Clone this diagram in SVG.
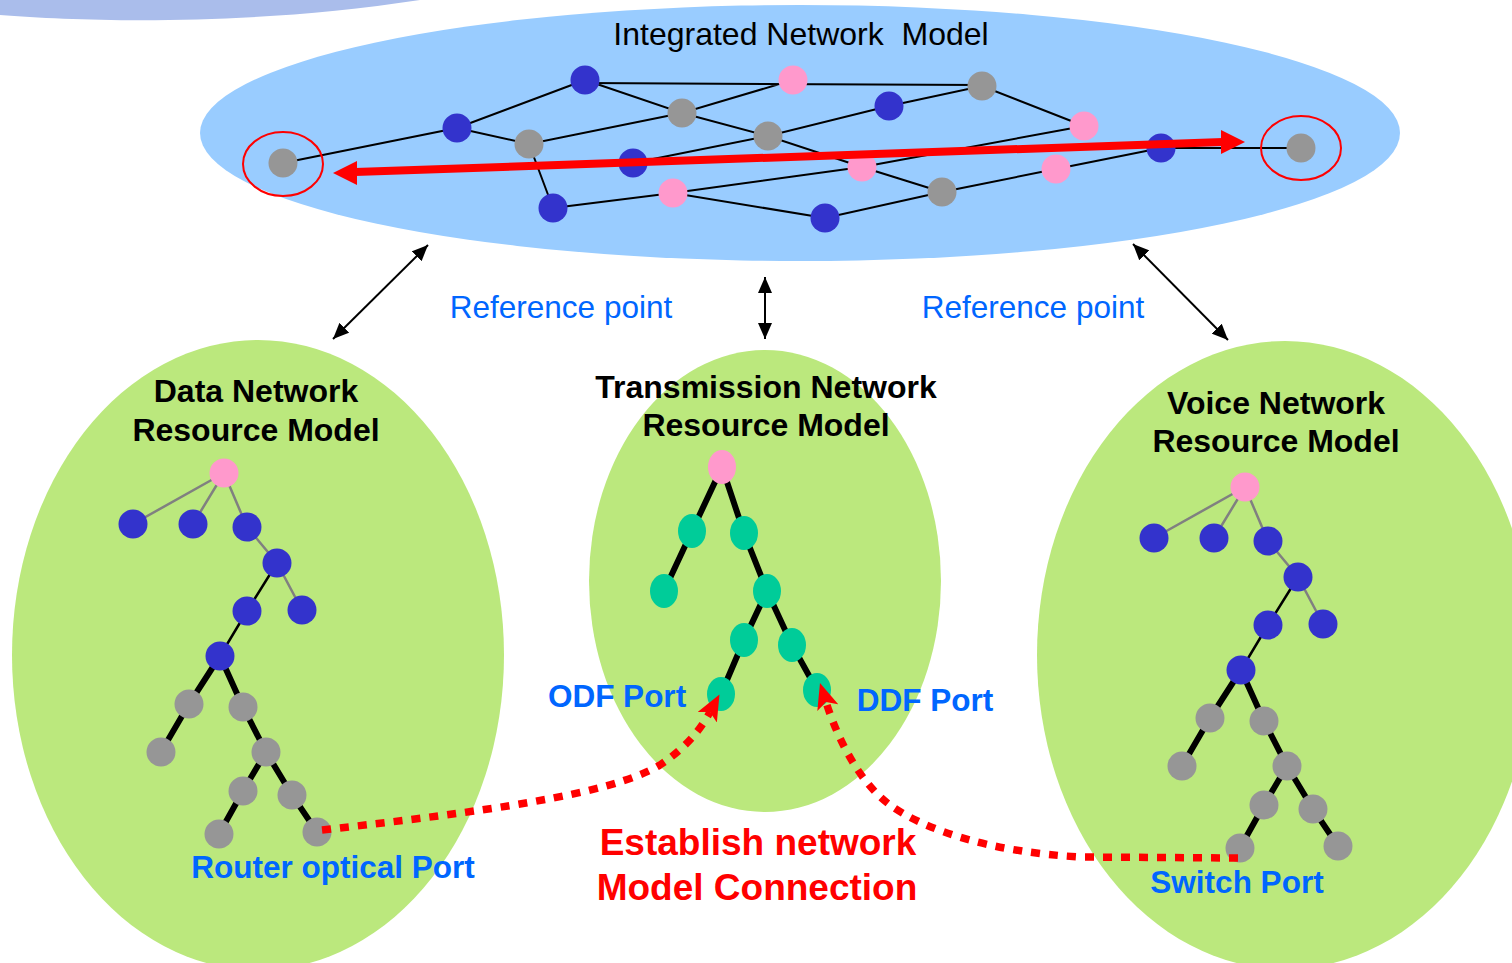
<svg xmlns="http://www.w3.org/2000/svg" xmlns:xlink="http://www.w3.org/1999/xlink" width="1512" height="963" viewBox="0 0 1512 963">
<style>
  .e { stroke:#000; stroke-width:2; fill:none; }
  .tg { stroke:#808080; stroke-width:2.5; fill:none; }
  .tb { stroke:#000; stroke-width:2.5; fill:none; }
  .tk { stroke:#000; stroke-width:6; fill:none; }
  .nb { fill:#3333CC; }
  .ng { fill:#969696; }
  .np { fill:#FF99CC; }
  .nt { fill:#00CC99; }
  .title { font-family:"Liberation Sans", Arial, sans-serif; font-size:32px; font-weight:bold; fill:#000; text-anchor:middle; }
  .port { font-family:"Liberation Sans", Arial, sans-serif; font-size:31.5px; font-weight:bold; fill:#0066FF; text-anchor:middle; }
  .ref { font-family:"Liberation Sans", Arial, sans-serif; font-size:31.5px; fill:#0066FF; text-anchor:middle; }
  .red { font-family:"Liberation Sans", Arial, sans-serif; font-size:37px; font-weight:bold; fill:#FF0000; text-anchor:middle; }
  .refarrow { stroke:#000; stroke-width:2; fill:none; marker-start:url(#blk); marker-end:url(#blk); }
  .dot { stroke:#FF0000; stroke-width:7.5; fill:none; stroke-dasharray:9 9; marker-end:url(#notch); }
</style>
<defs>
  <marker id="blk" markerUnits="userSpaceOnUse" viewBox="0 0 16 14" refX="16" refY="7" markerWidth="16" markerHeight="14" orient="auto-start-reverse">
    <path d="M0,0 L16,7 L0,14 Z" fill="#000"/>
  </marker>
  <marker id="notch" markerUnits="userSpaceOnUse" viewBox="0 0 26 22" refX="6" refY="11" markerWidth="26" markerHeight="22" orient="auto">
    <path d="M0,0 L26,11 L0,22 L6,11 Z" fill="#FF0000"/>
  </marker>
  <g id="tree">
    <path class="tg" d="M224,473 L133,524 M224,473 L193,524 M224,473 L247,527 L277,563 L302,610"/>
    <path class="tb" d="M277,563 L247,611 L220,656"/>
    <path class="tk" d="M220,656 L189,704 L161,752 M220,656 L243,707 L266,752 L243,791 L219,834 M266,752 L292,795 L317,832"/>
    <circle class="np" cx="224" cy="473" r="14.5"/>
    <circle class="nb" cx="133" cy="524" r="14.5"/>
    <circle class="nb" cx="193" cy="524" r="14.5"/>
    <circle class="nb" cx="247" cy="527" r="14.5"/>
    <circle class="nb" cx="277" cy="563" r="14.5"/>
    <circle class="nb" cx="247" cy="611" r="14.5"/>
    <circle class="nb" cx="302" cy="610" r="14.5"/>
    <circle class="nb" cx="220" cy="656" r="14.5"/>
    <circle class="ng" cx="189" cy="704" r="14.5"/>
    <circle class="ng" cx="243" cy="707" r="14.5"/>
    <circle class="ng" cx="161" cy="752" r="14.5"/>
    <circle class="ng" cx="266" cy="752" r="14.5"/>
    <circle class="ng" cx="243" cy="791" r="14.5"/>
    <circle class="ng" cx="292" cy="795" r="14.5"/>
    <circle class="ng" cx="219" cy="834" r="14.5"/>
    <circle class="ng" cx="317" cy="832" r="14.5"/>
  </g>
</defs>

<path d="M0,0 L0,15 C90,22 250,26 420,0 Z" fill="#AABDEB"/>

<g id="integrated-model">
  <ellipse cx="800" cy="133" rx="600" ry="128" fill="#99CCFF"/>
  <text x="801" y="45" style="font-family:'Liberation Sans', Arial, sans-serif; font-size:32px; fill:#000; text-anchor:middle; white-space:pre;" xml:space="preserve">Integrated Network  Model</text>
  <path class="e" d="M283,163 L457,128 L585,80 M457,128 L529,144 L682,113 M529,144 L553,208 M585,83 L982,85 M585,80 L682,113 L793,80 M682,113 L768,136 L889,106 L982,86 L1084,126 M633,163 L768,136 L862,167 L942,192 M553,208 L673,193 L825,218 L942,192 L1056,169 L1161,148 L1301,148 M673,193 L862,167 L1084,126"/>
  <circle class="ng" cx="283" cy="163" r="14.5"/>
  <circle class="nb" cx="457" cy="128" r="14.5"/>
  <circle class="ng" cx="529" cy="144" r="14.5"/>
  <circle class="nb" cx="585" cy="80" r="14.5"/>
  <circle class="ng" cx="682" cy="113" r="14.5"/>
  <circle class="nb" cx="633" cy="163" r="14.5"/>
  <circle class="np" cx="673" cy="193" r="14.5"/>
  <circle class="nb" cx="553" cy="208" r="14.5"/>
  <circle class="np" cx="793" cy="80" r="14.5"/>
  <circle class="ng" cx="982" cy="86" r="14.5"/>
  <circle class="nb" cx="889" cy="106" r="14.5"/>
  <circle class="ng" cx="768" cy="136" r="14.5"/>
  <circle class="np" cx="1084" cy="126" r="14.5"/>
  <circle class="nb" cx="1161" cy="148" r="14.5"/>
  <circle class="ng" cx="1301" cy="148" r="14.5"/>
  <circle class="np" cx="862" cy="167" r="14.5"/>
  <circle class="ng" cx="942" cy="192" r="14.5"/>
  <circle class="np" cx="1056" cy="169" r="14.5"/>
  <circle class="nb" cx="825" cy="218" r="14.5"/>
  <ellipse cx="283" cy="164" rx="40" ry="32" fill="none" stroke="#FF0000" stroke-width="2"/>
  <ellipse cx="1301" cy="148" rx="40" ry="32" fill="none" stroke="#FF0000" stroke-width="2"/>
  <path d="M355,172 L1223,142" stroke="#FF0000" stroke-width="8" fill="none"/>
  <polygon points="333,173 357,161 357,185" fill="#FF0000"/>
  <polygon points="1245,142 1221,130 1221,154" fill="#FF0000"/>
</g>

<g id="data-model">
  <ellipse cx="258" cy="655" rx="246" ry="315" fill="#BBE87D"/>
  <text class="title" x="256" y="402">Data Network</text>
  <text class="title" x="256" y="441">Resource Model</text>
  <use xlink:href="#tree"/>
  <text class="port" x="333" y="878">Router optical Port</text>
</g>

<g id="transmission-model">
  <ellipse cx="765" cy="581" rx="176" ry="231" fill="#BBE87D"/>
  <text class="title" x="766" y="398">Transmission Network</text>
  <text class="title" x="766" y="436">Resource Model</text>
  <path class="tk" d="M722,467 L692,531 L664,591 M722,467 L744,533 L767,591 L744,640 L721,694 M767,591 L792,645 L817,690"/>
  <ellipse class="np" cx="722" cy="467" rx="14" ry="17"/>
  <ellipse class="nt" cx="692" cy="531" rx="14" ry="17"/>
  <ellipse class="nt" cx="744" cy="533" rx="14" ry="17"/>
  <ellipse class="nt" cx="664" cy="591" rx="14" ry="17"/>
  <ellipse class="nt" cx="767" cy="591" rx="14" ry="17"/>
  <ellipse class="nt" cx="744" cy="640" rx="14" ry="17"/>
  <ellipse class="nt" cx="792" cy="645" rx="14" ry="17"/>
  <ellipse class="nt" cx="721" cy="694" rx="14" ry="17"/>
  <ellipse class="nt" cx="817" cy="690" rx="14" ry="17"/>
  <text class="port" x="617" y="707">ODF Port</text>
  <text class="port" x="925" y="711">DDF Port</text>
</g>

<g id="voice-model">
  <ellipse cx="1285" cy="655" rx="248" ry="314" fill="#BBE87D"/>
  <text class="title" x="1276" y="414">Voice Network</text>
  <text class="title" x="1276" y="452">Resource Model</text>
  <use xlink:href="#tree" x="1021" y="14"/>
  <text class="port" x="1237" y="893">Switch Port</text>
</g>

<g id="connectors">
  <path class="refarrow" d="M333,339 L428,245"/>
  <path class="refarrow" d="M765,277 L765,339"/>
  <path class="refarrow" d="M1133,244 L1228,340"/>
  <text class="ref" x="561" y="318">Reference point</text>
  <text class="ref" x="1033" y="318">Reference point</text>
  <path class="dot" d="M322,830 C480,812 610,795 660,765 C690,745 703,725 710,712"/>
  <path class="dot" d="M1238,858 L1080,857 C990,852 925,830 890,805 C860,783 838,740 826,702"/>
  <text class="red" x="758" y="855">Establish network</text>
  <text class="red" x="757" y="900">Model Connection</text>
</g>
</svg>
